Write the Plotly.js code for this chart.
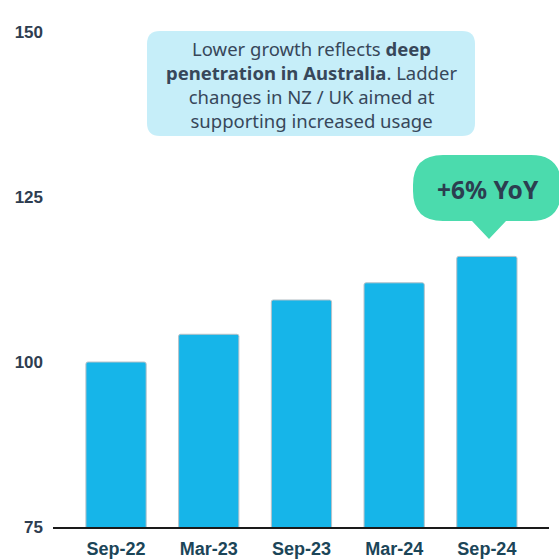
<!DOCTYPE html>
<html><head><meta charset="utf-8">
<script src="https://cdn.plot.ly/plotly-3.0.1.min.js"></script>
<style>html,body{margin:0;padding:0;background:#fff}#chart{width:559px;height:559px}</style>
</head><body><div id="chart"></div>
<script>
const categories = ["Sep-22", "Mar-23", "Sep-23", "Mar-24", "Sep-24"];
const values = [100.0, 104.2, 109.4, 112.0, 116.0];
const yTicks = [75, 100, 125, 150];
const noteText = "Lower growth reflects <b>deep</b><br><b>penetration in Australia</b>. Ladder<br>changes in NZ / UK aimed at<br>supporting increased usage";
const calloutText = "+6% YoY";

const W = 559, H = 559, mL = 53, mR = 10, mT = 32, mB = 32;
const pw = W - mL - mR, ph = H - mT - mB;
function px(x){ return (x - mL) / pw; }
function py(y){ return 1 - (y - mT) / ph; }
function roundRect(x0, y0, x1, y1, r){
  const rx = r / pw, ry = r / ph;
  const a = px(x0), b = px(x1), t = py(y0), u = py(y1);
  return `M${a+rx},${t} L${b-rx},${t} Q${b},${t} ${b},${t-ry} L${b},${u+ry} Q${b},${u} ${b-rx},${u} L${a+rx},${u} Q${a},${u} ${a},${u+ry} L${a},${t-ry} Q${a},${t} ${a+rx},${t} Z`;
}
function calloutPath(x0, y0, x1, y1, r, tx0, tx1, tipx, tipy){
  const rx = r / pw, ry = r / ph;
  const a = px(x0), b = px(x1), t = py(y0), u = py(y1);
  return `M${a+rx},${t} L${b-rx},${t} Q${b},${t} ${b},${t-ry} L${b},${u+ry} Q${b},${u} ${b-rx},${u} L${px(tx1)},${u} L${px(tipx)},${py(tipy)} L${px(tx0)},${u} L${a+rx},${u} Q${a},${u} ${a},${u+ry} L${a},${t-ry} Q${a},${t} ${a+rx},${t} Z`;
}

const data = [{
  type: "bar",
  x: categories,
  y: values,
  marker: {color: "#16b5e9", line: {color: "#b8c2c8", width: 1}, cornerradius: 2},
  hoverinfo: "none"
}];

const layout = {
  width: W, height: H,
  margin: {l: mL, r: mR, t: mT, b: mB, pad: 0},
  paper_bgcolor: "#ffffff", plot_bgcolor: "#ffffff",
  showlegend: false,
  bargap: 0.35,
  xaxis: {
    type: "category", range: [-0.68, 4.67],
    showline: true, linecolor: "#1a1a1a", linewidth: 1.5,
    showgrid: false, zeroline: false, ticks: "",
    tickfont: {family: "Liberation Sans, Arial, sans-serif", size: 18, color: "#1b4558", weight: "bold"},
    ticklabelstandoff: 5
  },
  yaxis: {
    range: [75, 150], tickvals: yTicks, ticktext: yTicks.map(String),
    showline: false, showgrid: false, zeroline: false, ticks: "",
    tickfont: {family: "Liberation Sans, Arial, sans-serif", size: 17, color: "#2e3d50", weight: "bold"},
    ticklabelstandoff: 9
  },
  shapes: [
    {type: "path", xref: "paper", yref: "paper", path: roundRect(147, 31, 475, 136, 13),
     fillcolor: "#c6eef9", line: {width: 0}, layer: "above"},
    {type: "path", xref: "paper", yref: "paper", path: calloutPath(413, 155, 561, 221, 30, 472, 506, 489, 239),
     fillcolor: "#4bdbad", line: {width: 0}, layer: "above"}
  ],
  annotations: [
    {xref: "paper", yref: "paper", x: px(311), y: py(84), xanchor: "center", yanchor: "middle",
     text: noteText, showarrow: false, align: "center",
     font: {family: "Noto Sans, Open Sans, sans-serif", size: 18.5, color: "#37475a"}},
    {xref: "paper", yref: "paper", x: px(488), y: py(189), xanchor: "center", yanchor: "middle",
     text: "<b>" + calloutText + "</b>", showarrow: false,
     font: {family: "Noto Sans, Open Sans, sans-serif", size: 24.5, color: "#2c3e50"}}
  ]
};
Plotly.newPlot("chart", data, layout, {displayModeBar: false, staticPlot: true});
</script></body></html>
